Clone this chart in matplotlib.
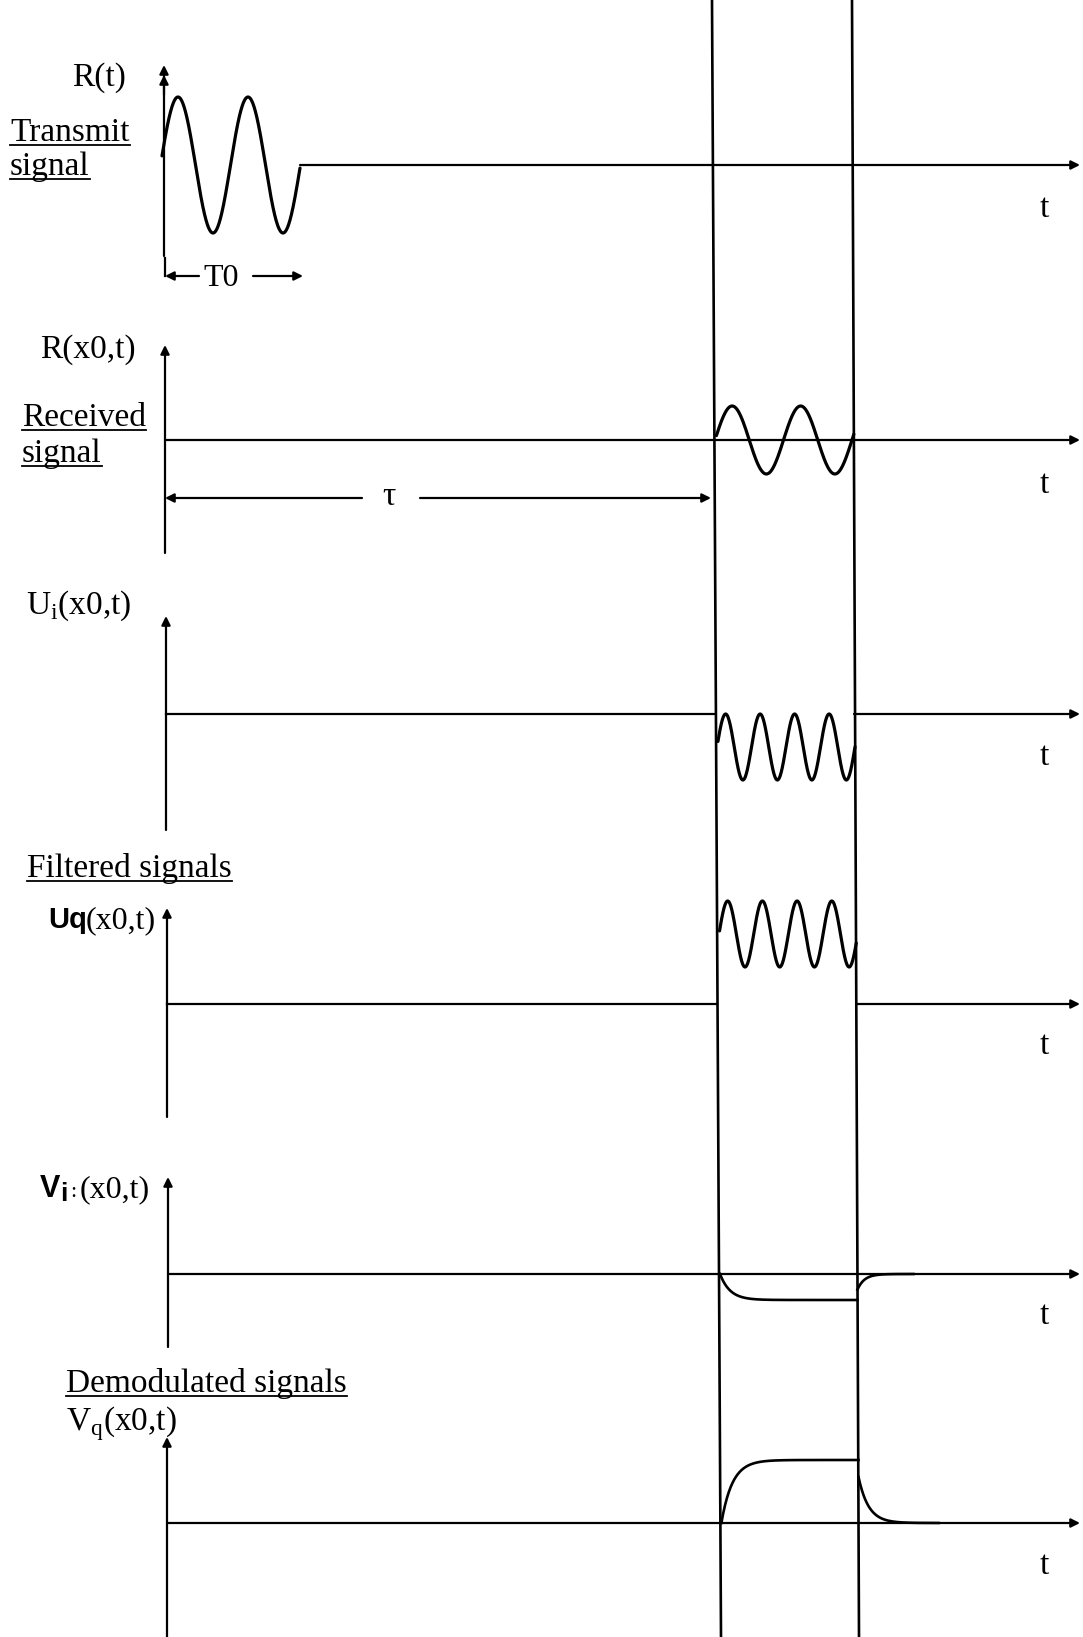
import numpy as np
import matplotlib
matplotlib.use('Agg')
from matplotlib import pyplot as plt

plt.rcParams['font.family'] = ['Liberation Serif', 'DejaVu Serif']
plt.rcParams['mathtext.fontset'] = 'custom'
plt.rcParams['mathtext.rm'] = 'Liberation Serif'

# --- diagram data (units = pixels of the 1083x1637 page, y pointing down) ---
baseline_y = [165, 440, 714, 1004, 1274, 1523]
axis_x = [164, 165, 166, 167, 168, 167]
axis_top = [65, 345, 616, 908, 1177, 1437]
axis_bottom = [256, 553, 830, 1117, 1347, 1637]
t_label_y = [217, 493, 765, 1054, 1324, 1574]

# baseline pieces per panel (start, end); last piece gets the arrow
baseline_pieces = [
    [(300, 1080)],
    [(165, 1080)],
    [(166, 714), (854, 1080)],
    [(167, 717), (857, 1080)],
    [(168, 1080)],
    [(167, 1080)],
]

# gate lines: x at top and at bottom of the page
gate_on_x = [712, 721]
gate_off_x = [852, 859]
page_h = 1637

# oscillating signals: panel, zero-crossing origin, period, centre, amplitude
osc_panel = [0, 1, 2, 3]
osc_origin = [160.5, 715, 717, 719]
osc_period = [70, 68.5, 34.5, 34.7]
osc_center = [165, 440, 747, 934]
osc_amp = [68, 34, 33, 33]

# demodulated step responses: panel, height (+ = up), rise tau, decay tau, decay start fraction
step_panel = [4, 5]
step_height = [-26, 63]
step_tau_rise = [10, 11]
step_tau_fall = [7, 10]
step_fall_start = [0.6, 0.73]


def gate_x(xs, y):
    return xs[0] + (xs[1] - xs[0]) * y / page_h


fig = plt.figure(figsize=(10.83, 16.37), dpi=100)
ax = fig.add_axes([0, 0, 1, 1])
ax.set_xlim(0, 1083)
ax.set_ylim(1637, 0)
ax.axis('off')

lw_axis = 1.6
lw_sig = 2.3
arrow_kw = dict(arrowstyle='-|>', color='k', lw=lw_axis, mutation_scale=13,
                shrinkA=0, shrinkB=0)

# gate lines
ax.plot(gate_on_x, [0, page_h], color='k', lw=1.9)
ax.plot(gate_off_x, [0, page_h], color='k', lw=1.9)

fs = 24

# vertical axes and baselines
for i in range(6):
    ax.annotate('', xy=(axis_x[i], axis_top[i]), xytext=(axis_x[i], axis_bottom[i]),
                arrowprops=arrow_kw)
    pieces = baseline_pieces[i]
    for a, b in pieces[:-1]:
        ax.plot([a, b], [baseline_y[i]] * 2, color='k', lw=lw_axis)
    a, b = pieces[-1]
    ax.annotate('', xy=(b, baseline_y[i]), xytext=(a, baseline_y[i]), arrowprops=arrow_kw)
    ax.text(1044, t_label_y[i], 't', fontsize=fs, ha='center', va='baseline')

# second arrow head on the transmit axis
ax.annotate('', xy=(axis_x[0], axis_top[0] + 10), xytext=(axis_x[0], axis_top[0] + 30),
            arrowprops=arrow_kw)

# oscillations
for k, p in enumerate(osc_panel):
    y0 = baseline_y[p]
    if p == 0:
        x_a, x_b = 162, 300
    else:
        x_a, x_b = gate_x(gate_on_x, y0) + 2, gate_x(gate_off_x, y0)
    x = np.linspace(x_a, x_b, 400)
    y = osc_center[k] - osc_amp[k] * np.sin(2 * np.pi * (x - osc_origin[k]) / osc_period[k])
    ax.plot(x, y, color='k', lw=lw_sig, solid_capstyle='round')

# step responses
for k, p in enumerate(step_panel):
    y0 = baseline_y[p]
    xon = gate_x(gate_on_x, y0) + 1
    xoff = gate_x(gate_off_x, y0)
    x1 = np.linspace(xon, xoff, 300)
    y1 = y0 - step_height[k] * (1 - np.exp(-(x1 - xon) / step_tau_rise[k]))
    ax.plot(x1, y1, color='k', lw=1.9)
    x2 = np.linspace(xoff, xoff + 8 * step_tau_fall[k], 200)
    y2 = y0 - step_height[k] * step_fall_start[k] * np.exp(-(x2 - xoff) / step_tau_fall[k])
    ax.plot(x2, y2, color='k', lw=1.9)

# T0 marker
ax.plot([165, 165], [258, 276], color='k', lw=lw_axis)
ax.annotate('', xy=(165, 276), xytext=(199, 276), arrowprops=arrow_kw)
ax.annotate('', xy=(303, 276), xytext=(253, 276), arrowprops=arrow_kw)
ax.text(203, 286, 'T0', fontsize=fs - 1, ha='left', va='baseline')

# tau marker
ax.annotate('', xy=(165, 498), xytext=(362, 498), arrowprops=arrow_kw)
ax.annotate('', xy=(711, 498), xytext=(420, 498), arrowprops=arrow_kw)
ax.text(389, 505, 'τ', fontsize=fs, ha='center', va='baseline')

# labels
ax.text(72, 86, 'R(t)', fontsize=fs, va='baseline')
ax.text(40, 358, 'R(x0,t)', fontsize=fs, va='baseline')
ax.text(26, 614, r'U$_\mathrm{i}$(x0,t)', fontsize=fs, va='baseline')
ax.text(48, 928, 'Uq', fontsize=fs - 3, va='baseline', ha='left',
        family='Liberation Sans', weight='bold')
ax.text(86, 928, '(x0,t)', fontsize=fs - 1, va='baseline')
ax.text(40, 1197, 'V', fontsize=fs - 2, va='baseline', family='Liberation Sans', weight='bold')
ax.text(60, 1201, 'i', fontsize=fs - 5, va='baseline', family='Liberation Sans', weight='bold')
ax.text(70, 1197, ':', fontsize=fs - 8, va='baseline')
ax.text(80, 1197, '(x0,t)', fontsize=fs - 1, va='baseline')
ax.text(66, 1430, r'V$_\mathrm{q}$(x0,t)', fontsize=fs, va='baseline')

underlined = [
    ('Transmit', 10, 141),
    ('signal', 10, 175),
    ('Received', 22, 426),
    ('signal', 22, 462),
    ('Filtered signals', 27, 877),
    ('Demodulated signals', 66, 1392),
]
ul_texts = []
for s, x, y in underlined:
    ul_texts.append((ax.text(x, y, s, fontsize=fs, va='baseline'), y))

fig.canvas.draw()
inv = ax.transData.inverted()
for txt, y in ul_texts:
    bb = txt.get_window_extent().transformed(inv)
    ax.plot([bb.x0, bb.x1], [y + 4, y + 4], color='k', lw=1.3)

fig.savefig('out.png', dpi=100)
